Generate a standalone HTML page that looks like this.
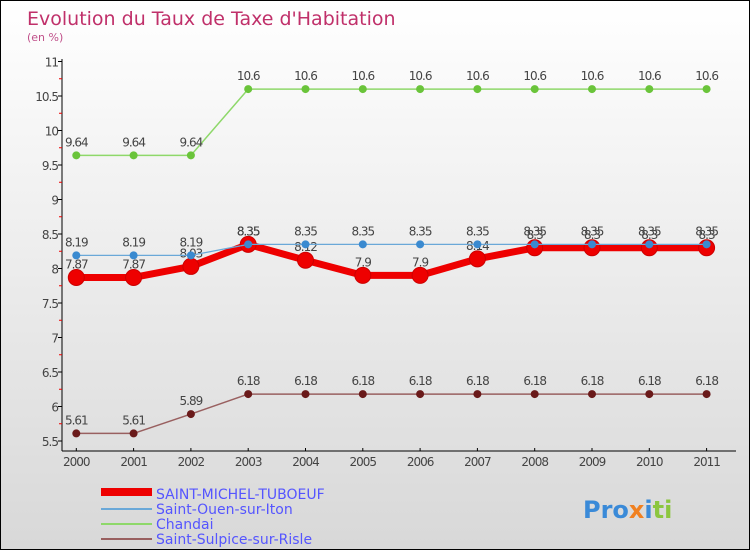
<!DOCTYPE html>
<html><head><meta charset="utf-8"><style>
body{margin:0}
#c{position:relative;width:748px;height:548px;border:1px solid #000;background:linear-gradient(#fff,#d8d8d8);font-family:"DejaVu Sans","Liberation Sans",sans-serif;overflow:hidden}
svg text{font-family:"DejaVu Sans","Liberation Sans",sans-serif}
</style></head><body>
<div id="c">
<svg width="748" height="548" id="s">
<text x="26" y="24" font-size="19" fill="#c0306a">Evolution du Taux de Taxe d'Habitation</text>
<text x="26" y="40" font-size="11" fill="#c0508a">(en %)</text>
<g id="axes"></g><g id="series"></g>
<g>
<rect x="100" y="487" width="51" height="8" fill="#e00"/>
<text x="155" y="498" font-size="14" fill="#55f">SAINT-MICHEL-TUBOEUF</text>
<rect x="100" y="507" width="51" height="2" fill="#6aa8d8"/>
<text x="155" y="513" font-size="14" fill="#55f">Saint-Ouen-sur-Iton</text>
<rect x="100" y="522" width="51" height="2" fill="#8ed86a"/>
<text x="155" y="528" font-size="14" fill="#55f">Chandai</text>
<rect x="100" y="537" width="51" height="2" fill="#996060"/>
<text x="155" y="543" font-size="14" fill="#55f">Saint-Sulpice-sur-Risle</text>
</g>
<text x="582" y="517" font-size="24" font-weight="bold"><tspan fill="#3a8ad8">Pro</tspan><tspan fill="#f08020">x</tspan><tspan fill="#3a8ad8">i</tspan><tspan fill="#8cc63f">ti</tspan></text>
</svg></div>
<script>
const years=[2000,2001,2002,2003,2004,2005,2006,2007,2008,2009,2010,2011];
const yTicks=[5.5,6,6.5,7,7.5,8,8.5,9,9.5,10,10.5,11];
const saintMichel=[7.87,7.87,8.03,8.35,8.12,7.9,7.9,8.14,8.3,8.3,8.3,8.3];
const saintOuen=[8.19,8.19,8.19,8.35,8.35,8.35,8.35,8.35,8.35,8.35,8.35,8.35];
const chandai=[9.64,9.64,9.64,10.6,10.6,10.6,10.6,10.6,10.6,10.6,10.6,10.6];
const saintSulpice=[5.61,5.61,5.89,6.18,6.18,6.18,6.18,6.18,6.18,6.18,6.18,6.18];
const NS="http://www.w3.org/2000/svg";
const xs=i=>75.3+i*57.3;
const ys=v=>440-(v-5.5)*69;
function mk(t,a,p){const e=document.createElementNS(NS,t);for(const k in a)e.setAttribute(k,a[k]);p.appendChild(e);return e;}
const ax=document.getElementById('axes');
let l=mk('line',{x1:61,y1:58,x2:61,y2:450,stroke:'#000'},ax);


l=mk('line',{x1:61,y1:450,x2:735,y2:450,stroke:'#000'},ax);


yTicks.forEach(v=>{
 mk('line',{x1:57,x2:61,y1:ys(v),y2:ys(v),stroke:'#000'},ax);
 if(v<11) mk('line',{x1:58,x2:61,y1:ys(v+0.25),y2:ys(v+0.25),stroke:'#e00'},ax);
 const t=mk('text',{x:57,y:ys(v)+5,'font-size':12,fill:'#444','text-anchor':'end','letter-spacing':'-1'},ax);
 t.textContent=v;
 
 
});
years.forEach((y,i)=>{
 mk('line',{x1:xs(i),x2:xs(i),y1:447,y2:450,stroke:'#000'},ax);
 const t=mk('text',{x:xs(i),y:465,'font-size':12,fill:'#444','text-anchor':'middle','letter-spacing':'-1'},ax);
 t.textContent=y;
 
 
});
const sg=document.getElementById('series');
function draw(name,data,color,w,r,mcol,labOff){
 const g=mk('g',{},sg);
 
 
 const p=mk('polyline',{points:data.map((v,i)=>xs(i)+','+ys(v)).join(' '),fill:'none',stroke:color,'stroke-width':w,'stroke-linejoin':'round'},g);
 
 
 data.forEach((v,i)=>{
  const c=mk('circle',{cx:xs(i),cy:ys(v),r:r,fill:mcol,stroke:color==='#e00'?'#c00':'none'},g);
  
  
  const t=mk('text',{x:xs(i),y:ys(v)+labOff,'font-size':12,fill:'#444','text-anchor':'middle','letter-spacing':'-1'},g);
  t.textContent=v;
  
  
 });
}
draw('chandai',chandai,'#8ed86a',1.5,4,'#6ac43a',-9);
draw('saint-sulpice',saintSulpice,'#996060',1.5,4,'#6a1a1a',-9);
draw('saint-michel',saintMichel,'#e00',7,8,'#e00',-9);
draw('saint-ouen',saintOuen,'#6aa8d8',1.2,4,'#3a8ad0',-9);
</script>
</body></html>
